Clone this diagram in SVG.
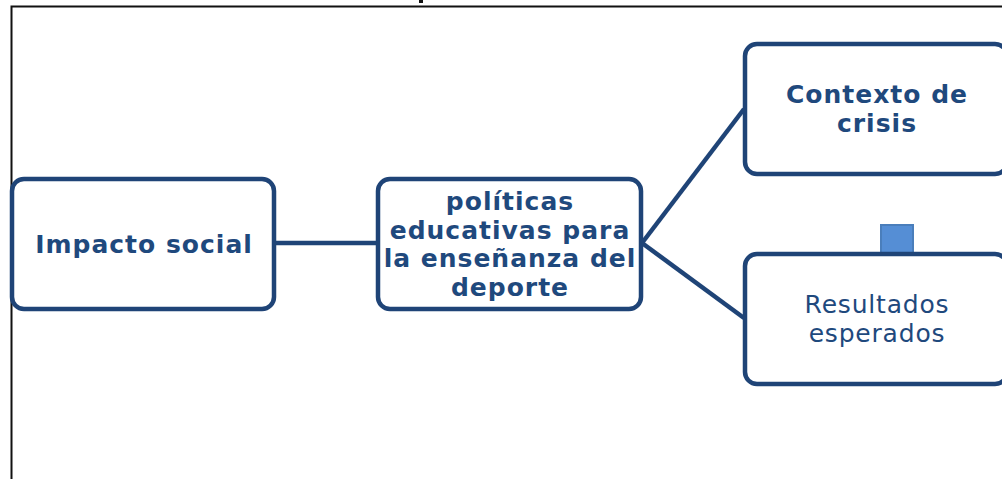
<svg xmlns="http://www.w3.org/2000/svg" width="1002" height="479" viewBox="0 0 1002 479">
<style>
.box{fill:#fff;stroke:#1F4477;stroke-width:4.5}
.t{font-family:"DejaVu Sans",Verdana,sans-serif;fill:#1F497D;text-anchor:middle;font-size:25px;letter-spacing:0.8px}
.b{font-weight:bold;letter-spacing:1px}
.con{stroke:#1F4477;stroke-width:4.5;fill:none}
</style>
<rect x="0" y="0" width="1002" height="479" fill="#fff"/>
<g id="frame">
<path d="M11.5 479 V6.5 H1002" fill="none" stroke="#111" stroke-width="2"/>
<rect x="419" y="0" width="4" height="3" fill="#111"/>
</g>
<g id="connectors">
<line class="con" x1="275" y1="243" x2="377" y2="243"/>
<line class="con" x1="642" y1="243" x2="744" y2="109"/>
<line class="con" x1="642" y1="243" x2="744" y2="318"/>
</g>
<g id="marker-square">
<rect x="881" y="225" width="32" height="30" fill="#558ED5" stroke="#4A7EBB" stroke-width="2"/>
</g>
<g id="impacto">
<rect class="box" x="12" y="179" width="262" height="130" rx="12"/>
<text class="t b" x="144" y="253">Impacto social</text>
</g>
<g id="politicas">
<rect class="box" x="378" y="179" width="263" height="130" rx="12"/>
<text class="t b" x="510" y="210">políticas</text>
<text class="t b" x="510" y="239">educativas para</text>
<text class="t b" x="510" y="267">la enseñanza del</text>
<text class="t b" x="510" y="296">deporte</text>
</g>
<g id="contexto">
<rect class="box" x="745" y="44" width="262" height="130" rx="12"/>
<text class="t b" x="877" y="103">Contexto de</text>
<text class="t b" x="877" y="132">crisis</text>
</g>
<g id="resultados">
<rect class="box" x="745" y="254" width="262" height="130" rx="12"/>
<text class="t" x="877" y="313">Resultados</text>
<text class="t" x="877" y="342">esperados</text>
</g>
</svg>
